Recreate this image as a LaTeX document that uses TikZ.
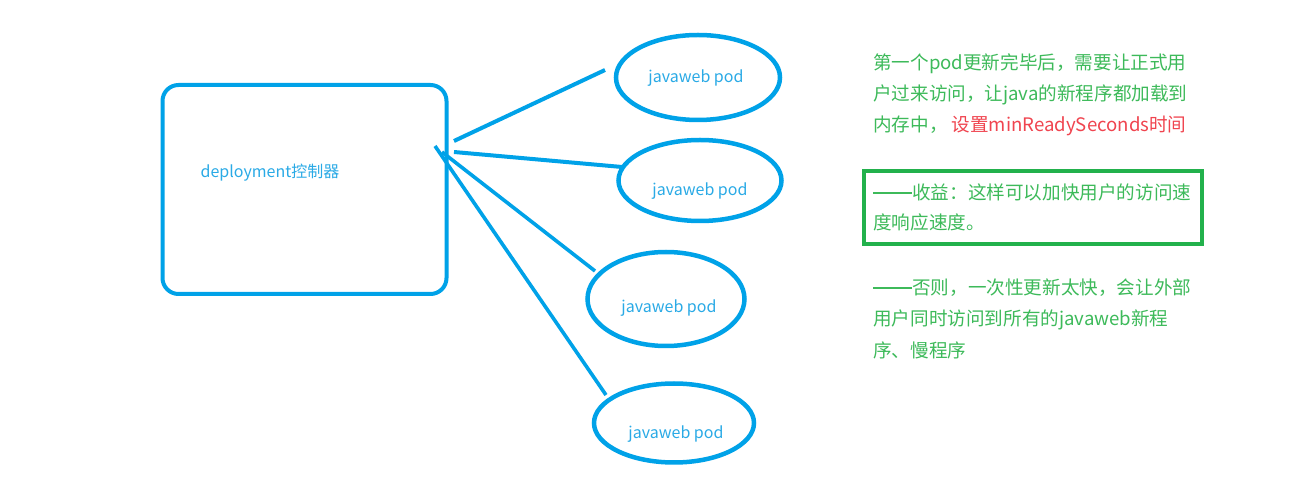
\documentclass[tikz,border=0pt]{standalone}
\usepackage{fontspec}
\setmainfont{Noto Sans CJK SC}
\usetikzlibrary{shapes.geometric}
\definecolor{bl}{HTML}{00A2E8}
\definecolor{bltext}{HTML}{2AAAE6}
\definecolor{gtext}{HTML}{3DBA5A}
\definecolor{gbox}{HTML}{22B14C}
\definecolor{rtext}{HTML}{F0444F}
\newcommand{\dashbar}{\rule[0.34em]{2.1em}{0.07em}}
\tikzset{
  podshape/.style={ellipse, draw=bl, line width=4.5pt, inner sep=0pt},
  podlabel/.style={text=bltext, font=\fontsize{16}{19}\selectfont, inner sep=0pt},
  conn/.style={draw=bl, line width=4pt},
  connthin/.style={draw=bl, line width=3.6pt},
  note/.style={text=gtext, font=\fontsize{18.6}{22}\selectfont, anchor=base west, inner sep=0pt},
}
\begin{document}
\begin{tikzpicture}[x=1pt,y=-1pt]
\useasboundingbox[fill=white] (0,0) rectangle (1302,502);
% controller
\node[draw=bl, line width=4pt, rounded corners=16pt, minimum width=284pt, minimum height=209pt, inner sep=0pt] (ctrl) at (304.5,189.5) {};
\node[text=bltext, font=\fontsize{16}{19}\selectfont, inner sep=0pt] (ctrltext) at (270,173) {deployment控制器};
% pods
\node[podshape, minimum width=164pt, minimum height=85pt] (p1) at (698,77.5) {};
\node[podshape, minimum width=163pt, minimum height=81pt] (p2) at (700,180.5) {};
\node[podshape, minimum width=157pt, minimum height=94pt] (p3) at (666,299) {};
\node[podshape, minimum width=160pt, minimum height=79pt] (p4) at (674,423) {};
\node[podlabel] (t1) at (696,78) {javaweb pod};
\node[podlabel] (t2) at (700,191) {javaweb pod};
\node[podlabel] (t3) at (669,308) {javaweb pod};
\node[podlabel] (t4) at (676,434) {javaweb pod};
% connector ends
\coordinate (s1) at (454,141);
\coordinate (e1) at (605,70);
\coordinate (s2) at (454,152);
\coordinate (e2) at (622,167);
\coordinate (s3) at (442,152);
\coordinate (e3) at (595,271);
\coordinate (s4) at (435,146);
\coordinate (e4) at (606,395);
\draw[conn] (s1) -- (e1);
\draw[conn] (s2) -- (e2);
\draw[connthin] (s3) -- (e3);
\draw[connthin] (s4) -- (e4);
% notes
\node[note] (n1) at (873,70) {第一个pod更新完毕后，需要让正式用};
\node[note] (n2) at (873,101) {户过来访问，让java的新程序都加载到};
\node[note] (n3) at (873,132) {内存中， \textcolor{rtext}{设置minReadySeconds时间}};
\node[draw=gbox, line width=4pt, minimum width=338pt, minimum height=73pt, inner sep=0pt] (gb) at (1033,207.5) {};
\node[note] (n4) at (873,200) {\dashbar 收益：这样可以加快用户的访问速};
\node[note] (n5) at (873,230) {度响应速度。};
\node[note] (n6) at (873,295) {\dashbar 否则，一次性更新太快，会让外部};
\node[note] (n7) at (873,326) {用户同时访问到所有的javaweb新程};
\node[note] (n8) at (873,358) {序、慢程序};
\end{tikzpicture}
\end{document}
